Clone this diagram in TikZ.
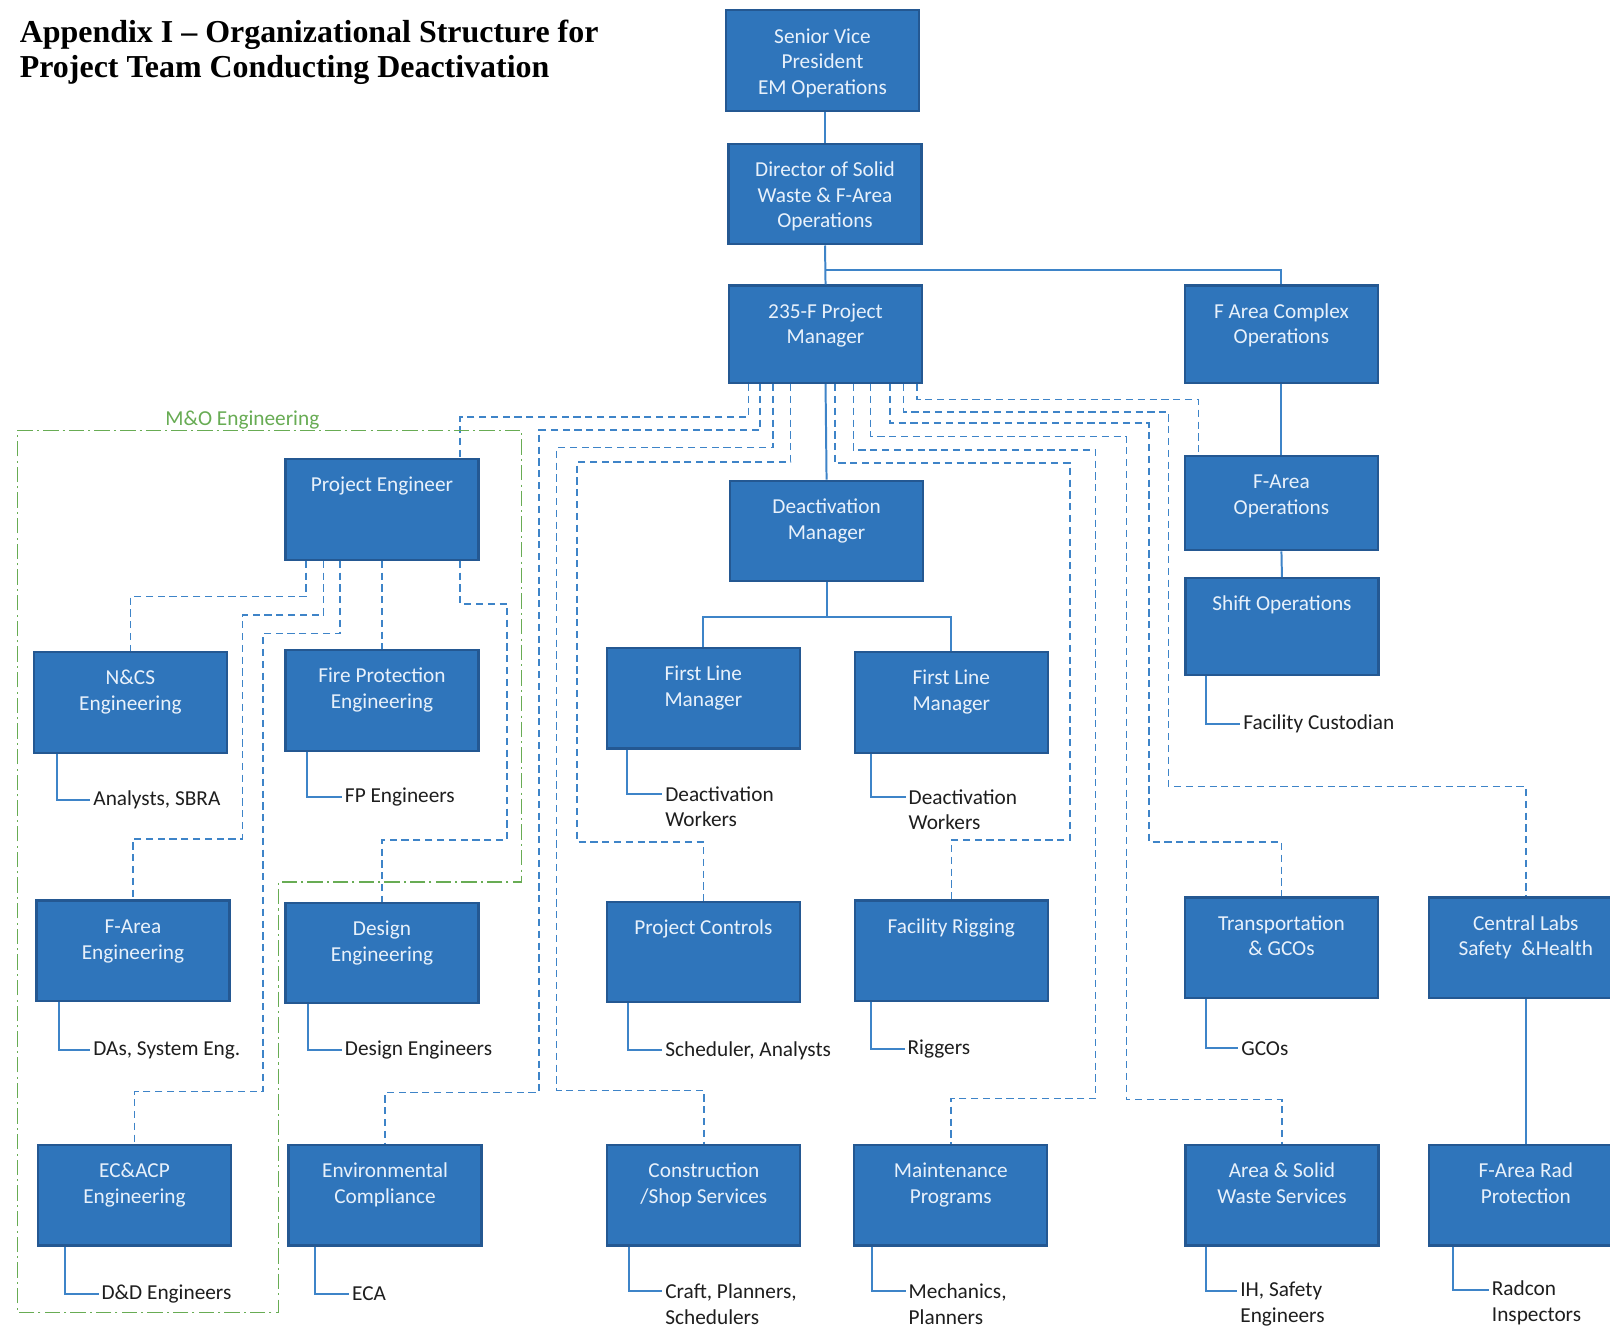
\documentclass[tikz,border=0pt]{standalone}
\usepackage{fontspec}
\usepackage{xcolor}
\usepackage{tikz}
\usetikzlibrary{calc}

\newfontfamily\calibri{Carlito}
\newfontfamily\titlefont{Liberation Serif}

\definecolor{boxblue}{RGB}{47,117,187}
\definecolor{boxedge}{RGB}{36,88,146}
\definecolor{boxtext}{RGB}{232,241,251}
\definecolor{linkblue}{RGB}{62,132,200}
\definecolor{stafftext}{RGB}{30,30,30}
\definecolor{mogreen}{RGB}{104,172,84}

\begin{document}
\begin{tikzpicture}[
    x=0.02cm, y=-0.02cm,
    box h/.store in=\orgboxht, box h=1.96cm,
    orgbox/.style={rectangle, draw=boxedge, line width=1.2pt, fill=boxblue, text=boxtext, inner sep=0pt, anchor=north,
        font=\calibri\fontsize{11.8}{14.2}\selectfont,
        execute at begin node={\begin{minipage}[t][\orgboxht][t]{3.76cm}\centering\rule{0pt}{0.64cm}},
        execute at end node={\end{minipage}}},
    staff/.style={anchor=west, align=left, inner xsep=1.5pt, inner ysep=0pt, text=stafftext, font=\calibri\fontsize{11.8}{14.2}\selectfont},
    link/.style={draw=linkblue, line width=1.1pt},
    dashlink/.style={draw=linkblue, line width=0.85pt, dash pattern=on 0.14cm off 0.09cm},
    moframe/.style={draw=mogreen, line width=0.8pt, dash pattern=on 0.3cm off 0.08cm on 0.04cm off 0.08cm},
]

\path[use as bounding box, fill=white] (0,0) rectangle (1568,1295);

% Title
\node[anchor=north west, inner sep=0pt, align=left, font=\titlefont\bfseries\fontsize{17.7}{19.35}\selectfont] (title) at (19,19) {Appendix I – Organizational Structure for\\Project Team Conducting Deactivation};

% Senior management
\node[orgbox] (svp) at (801,9) {Senior Vice\\President\\EM Operations};
\node[orgbox] (dir) at (803.5,139) {Director of Solid\\Waste \& F-Area\\Operations};
\node[orgbox, box h=1.9cm] (pm) at (804,277) {235-F Project\\Manager};
\node[orgbox, box h=1.9cm] (fac) at (1248,277) {F Area Complex\\Operations};
\node[orgbox, box h=1.84cm] (fao) at (1248,443) {F-Area\\Operations};
\node[orgbox, box h=1.88cm] (shift) at (1248.5,562) {Shift Operations};

% Second row
\node[orgbox] (pe) at (372,446) {Project Engineer};
\node[orgbox] (dm) at (805,467) {Deactivation\\Manager};
\node[orgbox] (ncs) at (127,634) {N\&CS\\Engineering};
\node[orgbox] (fpe) at (372,632) {Fire Protection\\Engineering};
\node[orgbox] (flm1) at (685,630) {First Line\\Manager};
\node[orgbox] (flm2) at (926.5,634) {First Line\\Manager};

% Third row
\node[orgbox] (fae) at (129.5,876) {F-Area\\Engineering};
\node[orgbox] (dse) at (372,878) {Design\\Engineering};
\node[orgbox] (pc) at (685,877) {Project Controls};
\node[orgbox] (fr) at (926.5,876) {Facility Rigging};
\node[orgbox] (trans) at (1248,873) {Transportation\\\& GCOs};
\node[orgbox] (cl) at (1486,873) {Central Labs\\Safety \ \&Health};

% Bottom row
\node[orgbox] (ecacp) at (131,1114) {EC\&ACP\\Engineering};
\node[orgbox] (env) at (375,1114) {Environmental\\Compliance};
\node[orgbox] (csh) at (685.5,1114) {Construction\\/Shop Services};
\node[orgbox] (mp) at (926,1114) {Maintenance\\Programs};
\node[orgbox] (asw) at (1248.5,1114) {Area \& Solid\\Waste Services};
\node[orgbox] (rad) at (1486,1114) {F-Area Rad\\Protection};

% Staff under each box
\node[staff] (ncsstaff) at (88,779) {Analysts, SBRA};
\node[staff] (fpestaff) at (333,776) {FP Engineers};
\node[staff] (flm1staff) at (645,785.5) {Deactivation\\Workers};
\node[staff] (flm2staff) at (882,788.5) {Deactivation\\Workers};
\node[staff] (shiftstaff) at (1208,705) {Facility Custodian};
\node[staff] (faestaff) at (88,1023) {DAs, System Eng.};
\node[staff] (dsestaff) at (333,1023) {Design Engineers};
\node[staff] (pcstaff) at (645,1023) {Scheduler, Analysts};
\node[staff] (frstaff) at (881,1022) {Riggers};
\node[staff] (transstaff) at (1206,1021) {GCOs};
\node[staff] (ecstaff) at (96,1260) {D\&D Engineers};
\node[staff] (envstaff) at (340,1260) {ECA};
\node[staff] (cshstaff) at (645,1270) {Craft, Planners,\\Schedulers};
\node[staff] (mpstaff) at (882,1270) {Mechanics,\\Planners};
\node[staff] (aswstaff) at (1205,1270) {IH, Safety\\Engineers};
\node[staff] (radstaff) at (1450,1269) {Radcon\\Inspectors};

% Solid reporting lines
\draw[link] (dir.north) -- (dir.north |- svp.south);
\draw[link] (dir.south) -- (pm.north);
\draw[link] ($(dir.south)!0.63!(pm.north)$) -| (fac.north);
\draw[link] (fac.south) -- (fao.north);
\draw[link] (fao.south) -- (shift.north);
\draw[link] (pm.south) -- (dm.north);
\draw[link] (dm.south) -- ++(0,34) coordinate (dmfork);
\draw[link] (flm1.north) |- (dmfork) -| (flm2.north);
\draw[link] (cl.south) -- (rad.north);

% Lines to staff
\draw[link] ($(ncs.south west)+(24,0)$) |- (ncsstaff.west);
\draw[link] ($(fpe.south west)+(22,0)$) |- (fpestaff.west);
\draw[link] ($(flm1.south west)+(21,0)$) |- ($(flm1staff.west)+(0,-12.5)$);
\draw[link] ($(flm2.south west)+(17,0)$) |- ($(flm2staff.west)+(0,-12.5)$);
\draw[link] ($(shift.south west)+(21,0)$) |- (shiftstaff.west);
\draw[link] ($(fae.south west)+(23,0)$) |- (faestaff.west);
\draw[link] ($(dse.south west)+(23,0)$) |- (dsestaff.west);
\draw[link] ($(pc.south west)+(22,0)$) |- (pcstaff.west);
\draw[link] ($(fr.south west)+(17,0)$) |- (frstaff.west);
\draw[link] ($(trans.south west)+(22,0)$) |- (transstaff.west);
\draw[link] ($(ecacp.south west)+(27,0)$) |- (ecstaff.west);
\draw[link] ($(env.south west)+(27,0)$) |- (envstaff.west);
\draw[link] ($(csh.south west)+(22,0)$) |- ($(cshstaff.west)+(0,-12.5)$);
\draw[link] ($(mp.south west)+(18,0)$) |- ($(mpstaff.west)+(0,-12.5)$);
\draw[link] ($(asw.south west)+(21,0)$) |- ($(aswstaff.west)+(0,-12.5)$);
\draw[link] ($(rad.south west)+(24,0)$) |- ($(radstaff.west)+(0,-12.5)$);

% Dashed lines from the project engineer
\draw[dashlink] ($(pe.south)+(-74,0)$) -- ++(0,35) -| (ncs.north);
\draw[dashlink] ($(pe.south)+(-57,0)$) |- (236,599) -- (236,817) -| (fae.north);
\draw[dashlink] ($(pe.south)+(-41,0)$) |- (256,617) -- (256,1063) -| (ecacp.north);
\draw[dashlink] (pe.south) -- (fpe.north);
\draw[dashlink] ($(pe.south)+(76,0)$) |- (494,588) -- (494,818) -| (dse.north);

% Dashed lines from the project manager
\draw[dashlink] ($(pm.south)+(-75,0)$) |- (448,406) -- ($(pe.north)+(76,0)$);
\draw[dashlink] ($(pm.south)+(-64,0)$) |- (525,419) -- (525,1064) -| (env.north);
\draw[dashlink] ($(pm.south)+(-51,0)$) |- (542,436) -- (542,1062) -| (csh.north);
\draw[dashlink] ($(pm.south)+(-34,0)$) |- (562,450) -- (562,820) -| (pc.north);
\draw[dashlink] ($(pm.south)+(9,0)$) |- (1042,451) -- (1042,818) -| (fr.north);
\draw[dashlink] ($(pm.south)+(27,0)$) |- (1067,438) -- (1067,1070) -| (mp.north);
\draw[dashlink] ($(pm.south)+(44,0)$) |- (1097,425) -- (1097,1071) -| (asw.north);
\draw[dashlink] ($(pm.south)+(63,0)$) |- (1119,412) -- (1119,820) -| (trans.north);
\draw[dashlink] ($(pm.south)+(76,0)$) |- (1138,401) -- (1138,766) -| (cl.north);
\draw[dashlink] ($(pm.south)+(89,0)$) |- (1167,389) -- ($(fao.north)+(-81,0)$);

% M&O Engineering boundary
\draw[moframe] (17,419) -- (508,419) -- (508,859) -- (271,859) -- (271,1278) -- (17,1278) -- cycle;
\node[text=mogreen, font=\calibri\fontsize{11.8}{14.2}\selectfont, inner sep=0pt] (molabel) at (236,409) {M\&O Engineering};

\end{tikzpicture}
\end{document}
